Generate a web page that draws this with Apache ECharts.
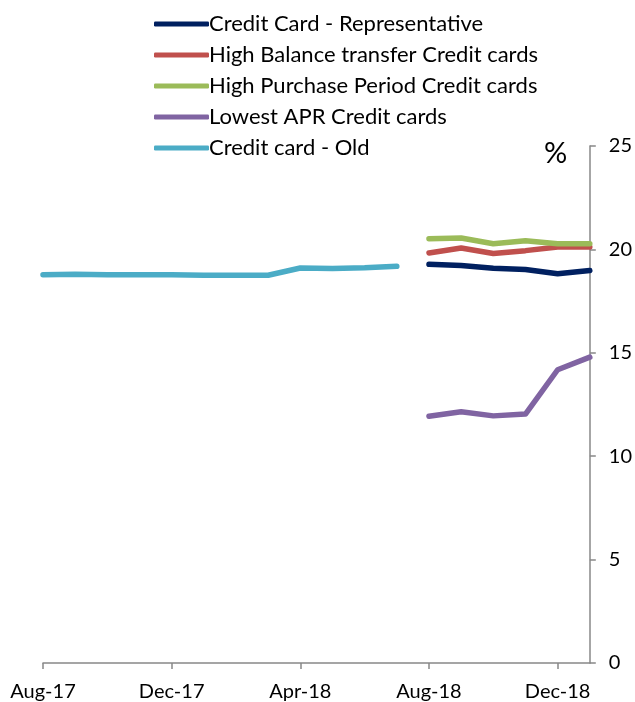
<!DOCTYPE html>
<html>
<head>
<meta charset="utf-8">
<script src="https://cdn.jsdelivr.net/npm/echarts@6/dist/echarts.min.js"></script>
<style>html,body{margin:0;padding:0;background:#fff;}#c{width:635px;height:702px;}</style>
</head>
<body>
<div id="c"></div>
<script>
const months = ['Aug-17','Sep-17','Oct-17','Nov-17','Dec-17','Jan-18','Feb-18','Mar-18','Apr-18','May-18','Jun-18','Jul-18','Aug-18','Sep-18','Oct-18','Nov-18','Dec-18','Jan-19'];
const representative = [null,null,null,null,null,null,null,null,null,null,null,null,19.28,19.22,19.09,19.03,18.82,18.98];
const balanceTransfer = [null,null,null,null,null,null,null,null,null,null,null,null,19.83,20.07,19.80,19.94,20.12,20.12];
const purchasePeriod = [null,null,null,null,null,null,null,null,null,null,null,null,20.52,20.55,20.27,20.42,20.27,20.27];
const lowestAPR = [null,null,null,null,null,null,null,null,null,null,null,null,11.93,12.15,11.95,12.04,14.18,14.79];
const oldCard = [18.78,18.80,18.78,18.78,18.78,18.75,18.75,18.75,19.10,19.08,19.11,19.18,null,null,null,null,null,null];
const seriesNames = ['Credit Card - Representative','High Balance transfer Credit cards','High Purchase Period Credit cards','Lowest APR Credit cards','Credit card - Old'];
const yTicks = [0,5,10,15,20,25];

const colors = ['#002060','#C0504D','#9BBB59','#8064A2','#4BACC6'];
const datas = [representative, balanceTransfer, purchasePeriod, lowestAPR, oldCard];
const font = 'Lato, "Open Sans", sans-serif';

const chart = echarts.init(document.getElementById('c'));
chart.setOption({
  animation: false,
  color: colors,
  grid: {left: 43, right: 44, top: 146, bottom: 37, containLabel: false},
  legend: {
    orient: 'vertical', left: 149, top: 7,
    itemWidth: 55, itemHeight: 5, itemGap: 7,
    icon: 'roundRect',
    textStyle: {fontFamily: font, fontSize: 22, color: '#000', lineHeight: 24, padding: [0,0,0,-5]},
    data: seriesNames
  },
  xAxis: {
    type: 'category', data: months, boundaryGap: false,
    axisLine: {lineStyle: {color: '#888', width: 1.5}},
    axisTick: {interval: 3, length: 6, lineStyle: {color: '#888', width: 1.5}},
    axisLabel: {interval: 3, fontFamily: font, fontSize: 20, color: '#000', margin: 19}
  },
  yAxis: {
    type: 'value', position: 'right', min: yTicks[0], max: yTicks[yTicks.length-1], interval: 5,
    splitLine: {show: false},
    axisLine: {show: true, lineStyle: {color: '#888', width: 1.5}},
    axisTick: {show: true, inside: false, length: 6, lineStyle: {color: '#888', width: 1.5}},
    axisLabel: {fontFamily: font, fontSize: 20, color: '#000', margin: 19}
  },
  graphic: [{type: 'text', left: 544, top: 139, style: {text: '%', font: '29px ' + font, fill: '#000'}}],
  series: seriesNames.map((n, i) => ({
    name: n, type: 'line', data: datas[i], showSymbol: false, symbol: 'none',
    lineStyle: {width: 5.5, color: colors[i], cap: 'round', join: 'round'},
    connectNulls: false
  }))
});
</script>
</body>
</html>
